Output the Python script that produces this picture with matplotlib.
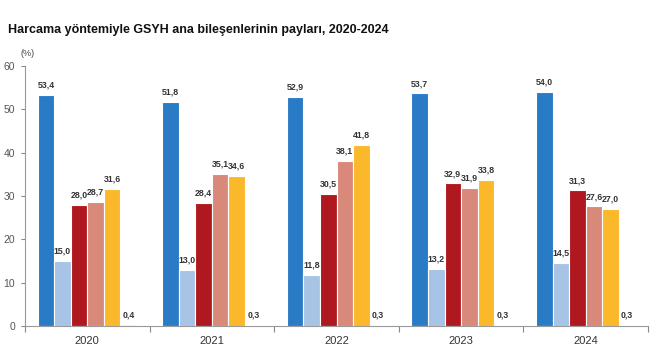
import matplotlib
matplotlib.use("Agg")
import matplotlib.pyplot as plt
import numpy as np

years = ["2020", "2021", "2022", "2023", "2024"]
s1 = [53.4, 51.8, 52.9, 53.7, 54.0]
s2 = [15.0, 13.0, 11.8, 13.2, 14.5]
s3 = [28.0, 28.4, 30.5, 32.9, 31.3]
s4 = [28.7, 35.1, 38.1, 31.9, 27.6]
s5 = [31.6, 34.6, 41.8, 33.8, 27.0]
s6 = [0.4, 0.3, 0.3, 0.3, 0.3]
series = [s1, s2, s3, s4, s5, s6]
colors = ["#2a7bc6", "#a7c3e6", "#b0181f", "#d9897a", "#fbb82a", "#f4f4f4"]

plt.rcParams['font.family'] = ['Liberation Sans', 'DejaVu Sans']

fig = plt.figure(figsize=(6.6, 3.6), dpi=100)
ax = fig.add_axes([25/660, 1-326/360, (648-25)/660, (326-66)/360])

x = np.arange(len(years))
w = 0.133
for k, (vals, c) in enumerate(zip(series, colors)):
    off = (k - 2.5) * w
    ax.bar(x + off, vals, width=w, color=c, edgecolor="white", linewidth=0.8, zorder=2)
    for xi, v in zip(x, vals):
        ax.text(xi + off, v + 1.2, f"{v:.1f}".replace(".", ","), ha="center", va="bottom",
                fontsize=6.3, fontweight="bold", color="#333333")

ax.set_xlim(-0.5, 4.5)
ax.set_ylim(0, 60)
ax.set_yticks([0, 10, 20, 30, 40, 50, 60])
ax.tick_params(axis="y", labelsize=7.5, colors="#888888", labelcolor="#555555", length=3, width=0.8, pad=4)
ax.set_xticks(x)
ax.set_xticklabels(years)
ax.tick_params(axis="x", length=0, labelsize=8, labelcolor="#333333", pad=7)
ax.set_xticks(np.arange(-0.5, 5, 1), minor=True)
ax.tick_params(axis="x", which="minor", length=4, width=0.8, colors="#888888")
for sp in ["top", "right"]:
    ax.spines[sp].set_visible(False)
for sp in ["left", "bottom"]:
    ax.spines[sp].set_color("#999999")
    ax.spines[sp].set_linewidth(0.8)

fig.text(8/660, 1-30/360, "Harcama yöntemiyle GSYH ana bileşenlerinin payları, 2020-2024",
         fontsize=9, fontweight="bold", color="#111111", va="center", ha="left")
fig.text(21/660, 1-53/360, "(%)", fontsize=6.5, color="#444444", va="center", ha="left")

fig.savefig("out.png", dpi=100)
